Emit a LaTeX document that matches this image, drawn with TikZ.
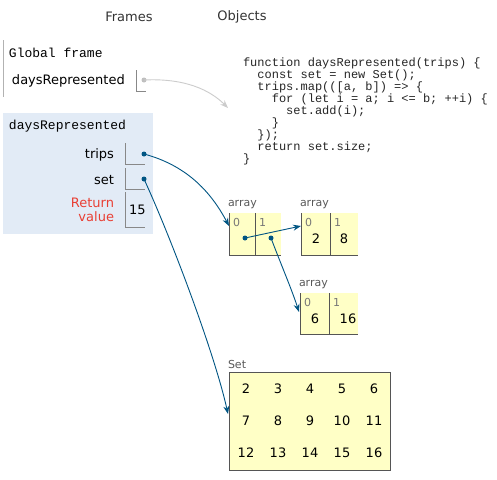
\documentclass[tikz,border=0pt]{standalone}
\usepackage{fontspec}
\setmainfont{DejaVu Sans}
\newfontfamily\codefont{Liberation Mono}
\usetikzlibrary{arrows.meta}
\definecolor{framebg}{HTML}{E2EBF6}
\definecolor{heapbg}{HTML}{FFFFC6}
\definecolor{arrowblue}{HTML}{005583}
\definecolor{retred}{HTML}{E93F34}
\definecolor{boxline}{HTML}{888888}
\definecolor{heapline}{HTML}{555555}
\definecolor{idxgray}{HTML}{777777}
\begin{document}
\begin{tikzpicture}[x=1pt,y=-1pt,
  every node/.style={inner sep=0pt,outer sep=0pt},
  hdr/.style={font=\fontsize{13}{15}\selectfont,text=black!80},
  mono/.style={font=\codefont\fontsize{13}{15}\selectfont,anchor=west},
  code/.style={font=\codefont\fontsize{12}{12}\selectfont,anchor=west,text=black!85},
  var/.style={font=\fontsize{13}{15}\selectfont,anchor=east},
  lbl/.style={font=\fontsize{11}{13}\selectfont,text=black!65,anchor=west},
  idx/.style={font=\fontsize{11}{13}\selectfont,text=idxgray,anchor=west},
  val/.style={font=\fontsize{13}{15}\selectfont},
  dotb/.style={circle,fill=arrowblue,minimum size=5pt},
  dotg/.style={circle,fill=black!25,minimum size=5pt},
  ptr/.style={draw=arrowblue,line width=0.9pt,-{Stealth[length=8pt,width=6pt]}},
  ptrg/.style={draw=black!20,line width=0.9pt,-{Stealth[length=8pt,width=6pt]}}
]
\useasboundingbox (0,0) rectangle (497,479);
\fill[white] (0,0) rectangle (497,479);

% headers
\node[hdr] (frames) at (129,17) {Frames};
\node[hdr] (objects) at (242,17) {Objects};

% global frame
\draw[black!30,line width=0.8pt] (3,40) -- (3,97);
\node[mono] (gf) at (9,53) {Global frame};
\node[font=\fontsize{13}{15}\selectfont,anchor=west] (gdr) at (12,81) {daysRepresented};
\draw[boxline,line width=0.7pt] (136,70) -- (136,91) -- (146,91);
\node[dotg] (gdot) at (144,80) {};

% code
\node[code] (c1) at (243,63) {function daysRepresented(trips) \{};
\node[code] (c2) at (243,75) {\ \ const set = new Set();};
\node[code] (c3) at (243,87) {\ \ trips.map(([a, b]) => \{};
\node[code] (c4) at (243,99) {\ \ \ \ for (let i = a; i <= b; ++i) \{};
\node[code] (c5) at (243,111) {\ \ \ \ \ \ set.add(i);};
\node[code] (c6) at (243,123) {\ \ \ \ \}};
\node[code] (c7) at (243,135) {\ \ \});};
\node[code] (c8) at (243,147) {\ \ return set.size;};
\node[code] (c9) at (243,159) {\}};
\coordinate (codein) at (228,108);

% function frame
\fill[framebg] (3,113) rectangle (153,234);
\node[mono] (ft) at (9,126) {daysRepresented};
\node[var] (vtrips) at (114,155) {trips};
\node[var] (vset) at (114,180) {set};
\node[var,text=retred,align=right,font=\fontsize{13}{14.5}\selectfont] (vret) at (114,210) {Return\\value};
\draw[boxline,line width=0.7pt] (125,143) -- (125,164) -- (145,164);
\draw[boxline,line width=0.7pt] (125,168) -- (125,189) -- (145,189);
\draw[boxline,line width=0.7pt] (125,192) -- (125,227) -- (145,227);
\node[val,anchor=west] (ret) at (129,210) {15};
\node[dotb] (dtrips) at (144,154) {};
\node[dotb] (dset) at (144,179) {};

% array 1
\fill[heapbg] (229,213) rectangle (281,255);
\draw[heapline,line width=0.8pt] (229,213) -- (229,255) -- (281,255);
\draw[heapline,line width=0.8pt] (255,213) -- (255,255);
\node[lbl] (a1l) at (228,205) {array};
\node[idx] (a1i0) at (233,222) {0};
\node[idx] (a1i1) at (259,222) {1};
\node[dotb] (a1d0) at (245,238) {};
\node[dotb] (a1d1) at (271,238) {};
\coordinate (a1in) at (229,226);

% array 2
\fill[heapbg] (301,213) rectangle (358,255);
\draw[heapline,line width=0.8pt] (301,213) -- (301,255) -- (358,255);
\draw[heapline,line width=0.8pt] (330,213) -- (330,255);
\node[lbl] (a2l) at (300,205) {array};
\node[idx] (a2i0) at (305,222) {0};
\node[idx] (a2i1) at (334,222) {1};
\node[val] (a2v0) at (316,239) {2};
\node[val] (a2v1) at (344,239) {8};
\coordinate (a2in) at (301,226);

% array 3
\fill[heapbg] (300,293) rectangle (358,334);
\draw[heapline,line width=0.8pt] (300,293) -- (300,334) -- (358,334);
\draw[heapline,line width=0.8pt] (329,293) -- (329,334);
\node[lbl] (a3l) at (299,285) {array};
\node[idx] (a3i0) at (304,302) {0};
\node[idx] (a3i1) at (333,302) {1};
\node[val] (a3v0) at (315,319) {6};
\node[val] (a3v1) at (348,319) {16};
\coordinate (a3in) at (299,312);

% set
\node[lbl] (setl) at (228,364) {Set};
\draw[heapline,fill=heapbg,line width=0.8pt] (229,372) rectangle (390,470);
\foreach \v [count=\i from 0] in {2,3,4,5,6,7,8,9,10,11,12,13,14,15,16} {
  \pgfmathtruncatemacro{\col}{mod(\i,5)}
  \pgfmathtruncatemacro{\row}{div(\i,5)}
  \node[val] (s\i) at ({246+32*\col},{389+32*\row}) {\v};
}
\coordinate (setin) at (228,414);

% arrows
\draw[ptrg] (gdot.center) .. controls (185,78) and (210,90) .. (codein);
\draw[ptr] (dtrips.center) .. controls (185,165) and (210,190) .. (a1in);
\draw[ptr] (dset.center) .. controls (172,240) and (215,355) .. (setin);
\draw[ptr] (a1d0.center) -- (a2in);
\draw[ptr] (a1d1.center) .. controls (280,262) and (292,290) .. (a3in);
\end{tikzpicture}
\end{document}
